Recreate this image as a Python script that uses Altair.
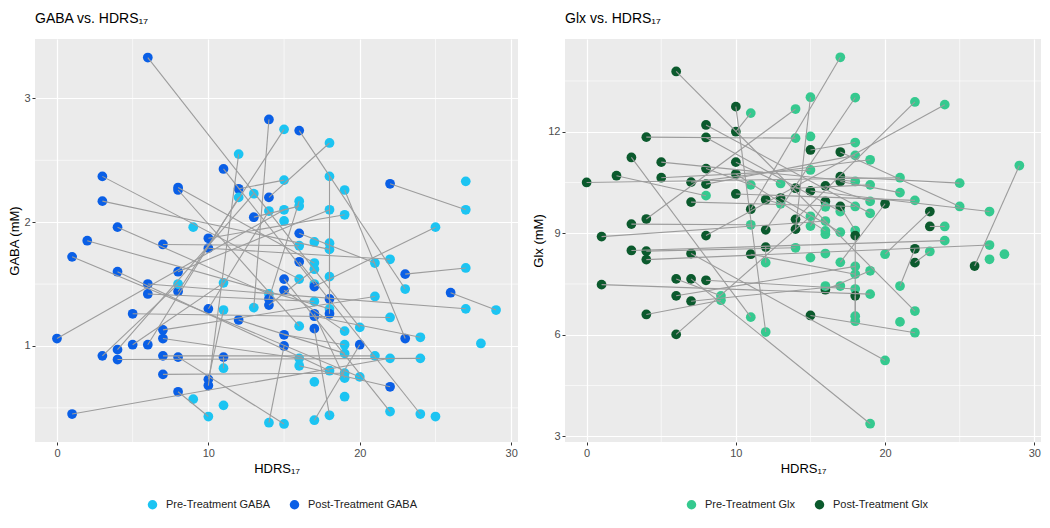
import altair as alt
import pandas as pd

# ---------------- GABA panel (post -> pre pairs, extra pre-only at end) ----------------
GABA_POST_HDRS = [6, 14, 11, 12, 14, 13, 3, 3, 8, 8, 4, 2, 7, 10, 10, 16, 22, 16, 1, 4,
                  8, 8, 6, 6, 14, 14, 10, 12, 5, 0, 7, 7, 5, 6, 4, 4, 3, 7, 8, 11,
                  7, 10, 10, 8, 1, 16, 23, 15, 17, 15, 26, 18, 17, 17, 18, 17, 15, 23, 20, 15, 22]
GABA_POST_MM = [3.33, 2.83, 2.43, 2.27, 2.20, 2.04, 2.37, 2.17, 2.28, 2.26, 1.96, 1.85, 1.82, 1.87, 1.79,
                2.74, 2.31, 1.91, 1.72, 1.60, 1.60, 1.44, 1.50, 1.42, 1.38, 1.33, 1.30, 1.21, 1.26, 1.06,
                1.13, 1.06, 1.01, 1.01, 0.97, 0.89, 0.92, 0.92, 0.91, 0.91, 0.77, 0.73, 0.68, 0.63, 0.45,
                1.68, 1.58, 1.54, 1.48, 1.45, 1.43, 1.38, 1.26, 1.24, 1.26, 1.14, 1.09, 1.06, 1.01, 1.00, 0.67]
GABA_PRE_HDRS = [20, 13, 17, 15, 18, 16, 16, 18, 17, 16, 14, 18, 16, 19, 22, 23, 27, 21, 20, 18,
                 18, 15, 27, 17, 16, 17, 14, 19, 22, 15, 21, 16, 11, 12, 13, 24, 8, 21, 15, 11,
                 19, 11, 12, 10, 22, 24, 27, 22, 25, 19, 29, 18, 19, 24, 18, 18, 19, 19, 17, 14, 16,
                 9, 18, 19, 9, 11, 25, 27, 28, 17, 15, 17]
GABA_PRE_MM = [1.15, 1.31, 1.50, 2.34, 2.64, 2.13, 1.54, 1.78, 1.67, 1.16, 1.42, 1.30, 1.81, 2.06, 1.70,
               1.46, 2.10, 1.67, 0.75, 0.80, 2.10, 2.75, 1.30, 1.36, 2.17, 1.62, 2.09, 0.94, 1.23, 2.10,
               1.40, 0.90, 1.51, 2.20, 2.23, 0.90, 1.50, 0.92, 0.37, 0.82, 0.78, 1.29, 2.55, 0.43, 0.90,
               0.45, 1.63, 0.47, 1.96, 1.12, 1.29, 2.37, 0.74, 1.07, 1.83, 0.44, 1.01, 2.26, 0.40, 0.38, 0.84,
               1.96, 1.56, 0.59, 0.57, 0.52, 0.43, 2.33, 1.02, 1.84, 2.01, 0.71]

# ---------------- Glx panel ----------------
GLX_POST_HDRS = [6, 10, 8, 10, 4, 8, 15, 3, 5, 2, 5, 0, 8, 10, 10, 7, 8, 14, 10, 7,
                 12, 13, 11, 14, 4, 3, 12, 14, 1, 8, 15, 17, 17, 17, 16, 16, 17, 20, 23, 23,
                 18, 3, 4, 4, 7, 11, 12, 1, 6, 7, 8, 6, 7, 4, 6, 15, 22, 22, 26, 16, 18]
GLX_POST_MM = [13.78, 12.74, 12.20, 12.00, 11.84, 11.83, 11.46, 11.24, 11.10, 10.70, 10.64, 10.50, 10.91,
               11.10, 10.75, 10.51, 10.45, 10.33, 10.16, 9.92, 9.99, 10.04, 9.71, 9.41, 9.42, 9.27, 9.10,
               9.12, 8.90, 8.93, 10.25, 11.40, 10.67, 10.53, 10.40, 9.94, 9.79, 9.87, 9.64, 9.20, 8.93,
               8.49, 8.47, 8.22, 8.40, 8.38, 8.59, 7.48, 7.65, 7.65, 7.61, 7.15, 6.99, 6.60, 6.01, 6.57,
               8.54, 8.13, 8.03, 7.33, 7.15]
GLX_PRE_HDRS = [22, 12, 19, 11, 14, 17, 18, 11, 18, 8, 15, 21, 11, 13, 16, 19, 18, 19, 22, 18,
                13, 17, 17, 22, 14, 11, 18, 15, 16, 24, 27, 25, 25, 21, 19, 15, 18, 17, 20, 24,
                18, 24, 14, 27, 20, 18, 12, 19, 9, 19, 18, 18, 17, 9, 15, 22, 21, 23, 29, 19, 18,
                15, 16, 28, 27, 16, 21, 16, 15, 16]
GLX_PRE_MM = [6.70, 6.08, 9.59, 12.55, 11.81, 9.64, 11.68, 6.52, 10.53, 10.11, 10.87, 10.64, 10.43,
              10.47, 9.07, 11.17, 11.30, 10.43, 9.97, 9.79, 9.87, 9.03, 14.20, 12.88, 12.67, 9.25, 13.01,
              13.02, 9.36, 12.80, 9.64, 9.79, 10.48, 10.20, 9.94, 9.21, 9.08, 8.14, 8.38, 9.20, 6.40,
              8.78, 8.57, 8.65, 5.24, 7.79, 8.13, 7.20, 7.15, 3.37, 7.35, 8.02, 7.44, 7.02, 9.50, 6.06,
              7.44, 8.46, 11.00, 7.89, 6.55,
              11.86, 8.97, 8.38, 8.23, 8.40, 6.38, 7.44, 8.28, 9.78]

X_TICKS = [0, 10, 20, 30]
X_MINOR = [5, 15, 25]
GABA_Y_TICKS = [1, 2, 3]
GABA_Y_MINOR = [0.5, 1.5, 2.5]
GLX_Y_TICKS = [3, 6, 9, 12]
GLX_Y_MINOR = [4.5, 7.5, 10.5, 13.5]

FONT = "Liberation Sans"


def build_df(post_x, post_y, pre_x, pre_y, pre_label, post_label):
    rows = []
    n = len(post_x)
    for i in range(n):
        rows.append(dict(subject=i, hdrs=post_x[i], value=post_y[i], time=post_label, ord=0))
        rows.append(dict(subject=i, hdrs=pre_x[i], value=pre_y[i], time=pre_label, ord=1))
    for j in range(n, len(pre_x)):
        rows.append(dict(subject=j, hdrs=pre_x[j], value=pre_y[j], time=pre_label, ord=1))
    return pd.DataFrame(rows)


def panel(df, title, ytitle, xdom, ydom, yticks, yminor, labels, colors, width, legend_x):
    xs = alt.Scale(domain=xdom, nice=False, zero=False)
    ys = alt.Scale(domain=ydom, nice=False, zero=False)
    xaxis = alt.Axis(values=X_TICKS, title="HDRS₁₇", grid=True)
    yaxis = alt.Axis(values=yticks, title=ytitle, grid=True)

    minor_x = alt.Chart(pd.DataFrame({"hdrs": X_MINOR})).mark_rule(
        color="white", strokeWidth=0.6).encode(x=alt.X("hdrs:Q", scale=xs, axis=xaxis))
    minor_y = alt.Chart(pd.DataFrame({"value": yminor})).mark_rule(
        color="white", strokeWidth=0.6).encode(y=alt.Y("value:Q", scale=ys, axis=yaxis))

    base = alt.Chart(df)
    pts = base.mark_circle(size=95, opacity=1).encode(
        x=alt.X("hdrs:Q", scale=xs, axis=xaxis),
        y=alt.Y("value:Q", scale=ys, axis=yaxis),
        color=alt.Color("time:N", scale=alt.Scale(domain=labels, range=colors),
                        sort=labels,
                        legend=alt.Legend(title=None, orient="none", direction="horizontal",
                                          legendX=legend_x, legendY=460,
                                          symbolSize=90, symbolType="circle",
                                          labelFontSize=11, labelFont=FONT, labelColor="#222222",
                                          columnPadding=18, labelOffset=8)),
    )
    lines = base.mark_line(color="#9c9c9c", strokeWidth=1.1).encode(
        x=alt.X("hdrs:Q", scale=xs, axis=xaxis),
        y=alt.Y("value:Q", scale=ys, axis=yaxis),
        detail="subject:N",
        order="ord:Q",
    )
    return alt.layer(minor_x, minor_y, pts, lines).properties(
        width=width, height=403,
        title=alt.TitleParams(title, anchor="start", frame="group", fontSize=14,
                              fontWeight="normal", font=FONT, color="black", offset=13),
    )


gaba_df = build_df(GABA_POST_HDRS, GABA_POST_MM, GABA_PRE_HDRS, GABA_PRE_MM,
                   "Pre-Treatment GABA", "Post-Treatment GABA")
glx_df = build_df(GLX_POST_HDRS, GLX_POST_MM, GLX_PRE_HDRS, GLX_PRE_MM,
                  "Pre-Treatment Glx", "Post-Treatment Glx")

left = panel(gaba_df, "GABA vs. HDRS₁₇", "GABA (mM)", [-1.45, 30.45], [0.224, 3.48],
             GABA_Y_TICKS, GABA_Y_MINOR, ["Pre-Treatment GABA", "Post-Treatment GABA"],
             ["#1cc4f2", "#0a5fe6"], 483, 112)
right = panel(glx_df, "Glx vs. HDRS₁₇", "Glx (mM)", [-1.45, 30.45], [2.83, 14.74],
              GLX_Y_TICKS, GLX_Y_MINOR, ["Pre-Treatment Glx", "Post-Treatment Glx"],
              ["#35c98f", "#0b5a2d"], 476, 121)

chart = alt.hconcat(left, right, spacing=13).resolve_scale(color="independent").properties(
    padding={"left": 0, "top": 3, "right": 0, "bottom": 0}
).configure(background="white").configure_view(
    fill="#EBEBEB", strokeWidth=0
).configure_axis(
    gridColor="white", gridWidth=1.2, domain=False, tickColor="#333333", tickSize=3,
    labelColor="#4d4d4d", labelFontSize=11, labelFont=FONT, labelPadding=2,
    titleFont=FONT, titleFontSize=13, titleFontWeight="normal", titleColor="black",
    titlePadding=4,
).configure_axisY(titlePadding=2)

chart.save("out.html", embed_options={"renderer": "svg", "actions": False})
